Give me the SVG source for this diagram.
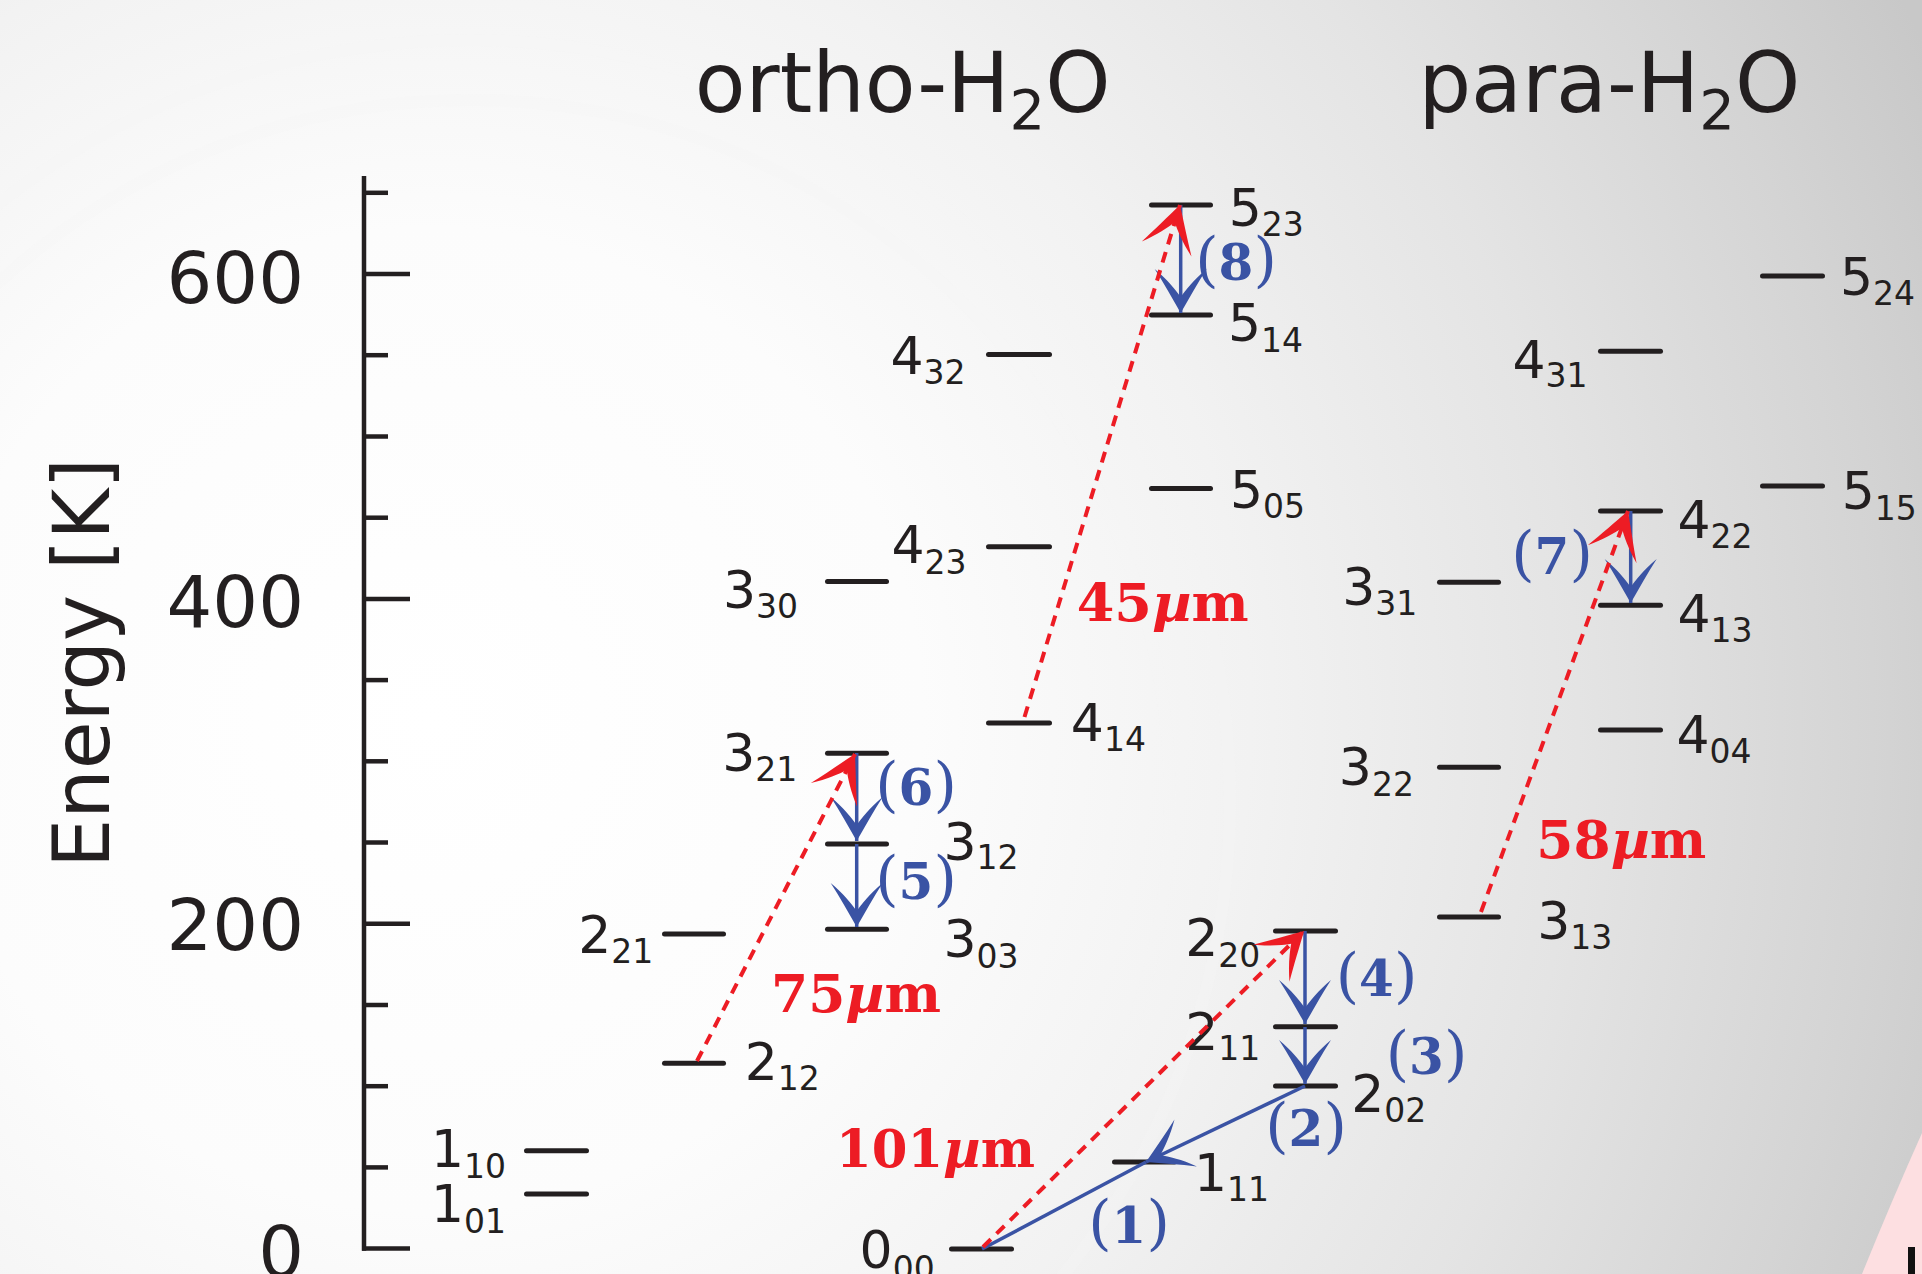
<svg xmlns="http://www.w3.org/2000/svg" width="1922" height="1274" viewBox="0 0 1922 1274">
<defs>
<radialGradient id="bg" gradientUnits="userSpaceOnUse" cx="430" cy="720" r="1640">
<stop offset="0" stop-color="#ffffff"/>
<stop offset="0.3" stop-color="#fcfcfc"/>
<stop offset="0.5" stop-color="#f2f2f2"/>
<stop offset="0.7" stop-color="#e4e4e4"/>
<stop offset="0.88" stop-color="#d4d4d4"/>
<stop offset="1" stop-color="#c8c8c8"/>
</radialGradient>
<marker id="ab" markerUnits="userSpaceOnUse" viewBox="-50 -30 55 60" markerWidth="55" markerHeight="60" refX="0" refY="0" orient="auto" overflow="visible">
<path d="M0,0 C-14,-8 -30,-17 -44,-26 C-33,-13 -23,-5 -16,0 C-23,5 -33,13 -44,26 C-30,17 -14,8 0,0 Z" fill="#3a53a4"/>
</marker>
<marker id="ar" markerUnits="userSpaceOnUse" viewBox="-50 -30 55 60" markerWidth="55" markerHeight="60" refX="0" refY="0" orient="auto" overflow="visible">
<path d="M0,0 C-14,-8 -31,-17 -46,-26 C-35,-13 -25,-5 -18,0 C-25,5 -35,13 -46,26 C-31,17 -14,8 0,0 Z" fill="#ed1c24"/>
</marker>
<style>
.lv{stroke:#231f20;stroke-width:5;stroke-linecap:round;fill:none}
.ax{stroke:#231f20;stroke-width:4.5;fill:none}
.lb{font-family:"DejaVu Sans",sans-serif;font-size:52px;fill:#231f20}
.s{font-size:33px}
.tk{font-family:"DejaVu Sans",sans-serif;font-size:72px;fill:#231f20;text-anchor:end}
.tt{font-family:"DejaVu Sans",sans-serif;font-size:83px;fill:#231f20}
.ts{font-size:56px}
.bl{font-family:"DejaVu Serif",serif;font-size:60px;fill:#3a53a4;text-anchor:middle}
.bd{font-size:50px;font-weight:bold}
.rd{font-family:"DejaVu Serif",serif;font-size:53px;font-weight:bold;fill:#ed1c24}
.mu{font-style:italic}
.blu{stroke:#3a53a4;stroke-width:3.5;fill:none}
.red{stroke:#ed1c24;stroke-width:4;fill:none;stroke-dasharray:11 8}
.ring{fill:none;stroke:#f4f4f4;stroke-width:12;opacity:0.3}
</style>
</defs>
<rect x="0" y="0" width="1922" height="1274" fill="url(#bg)"/>
<g id="rings">
<circle class="ring" cx="470" cy="800" r="700"/>
<circle class="ring" cx="470" cy="800" r="760"/>
</g>
<path d="M1922,1133 Q1892,1200 1862,1274 L1922,1274 Z" fill="#fddfe1"/>
<rect x="1908" y="1247" width="7" height="27" fill="#111111"/>

<g id="titles">
<text class="tt" x="694.8" y="112">ortho-H<tspan class="ts" y="128.6">2</tspan><tspan y="112">O</tspan></text>
<text class="tt" x="1418.4" y="112">para-H<tspan class="ts" y="128.6">2</tspan><tspan y="112">O</tspan></text>
</g>

<g id="axis">
<line class="ax" x1="364" y1="176" x2="364" y2="1250.8"/>
<line class="ax" x1="362" y1="1248.6" x2="410" y2="1248.6"/>
<line class="ax" x1="364" y1="1167.4" x2="388" y2="1167.4"/>
<line class="ax" x1="364" y1="1086.2" x2="388" y2="1086.2"/>
<line class="ax" x1="364" y1="1005" x2="388" y2="1005"/>
<line class="ax" x1="364" y1="923.7" x2="410" y2="923.7"/>
<line class="ax" x1="364" y1="842.5" x2="388" y2="842.5"/>
<line class="ax" x1="364" y1="761.3" x2="388" y2="761.3"/>
<line class="ax" x1="364" y1="680.1" x2="388" y2="680.1"/>
<line class="ax" x1="364" y1="598.9" x2="410" y2="598.9"/>
<line class="ax" x1="364" y1="517.7" x2="388" y2="517.7"/>
<line class="ax" x1="364" y1="436.5" x2="388" y2="436.5"/>
<line class="ax" x1="364" y1="355.2" x2="388" y2="355.2"/>
<line class="ax" x1="364" y1="274" x2="410" y2="274"/>
<line class="ax" x1="364" y1="192.8" x2="388" y2="192.8"/>
<text class="tk" x="304" y="303">600</text>
<text class="tk" x="304" y="627">400</text>
<text class="tk" x="304" y="950">200</text>
<text class="tk" x="304" y="1276.5">0</text>
<text class="tk" style="font-size:78px;text-anchor:middle" transform="translate(109,663) rotate(-90)">Energy [K]</text>
</g>

<g id="ortho-1_01"><line class="lv" x1="526.5" y1="1194" x2="586.5" y2="1194"/><text class="lb" x="431" y="1221.7">1<tspan class="s" y="1232.7">01</tspan></text></g>
<g id="ortho-1_10"><line class="lv" x1="526.5" y1="1150.7" x2="586.5" y2="1150.7"/><text class="lb" x="431" y="1166.7">1<tspan class="s" y="1177.7">10</tspan></text></g>
<g id="ortho-2_12"><line class="lv" x1="664.5" y1="1063.3" x2="723.5" y2="1063.3"/><text class="lb" x="744.7" y="1080">2<tspan class="s" y="1089.5">12</tspan></text></g>
<g id="ortho-2_21"><line class="lv" x1="664.5" y1="934" x2="723.5" y2="934"/><text class="lb" x="578.2" y="953.3">2<tspan class="s" y="963.3">21</tspan></text></g>
<g id="ortho-3_03"><line class="lv" x1="827.5" y1="929.3" x2="886.5" y2="929.3"/><text class="lb" x="943.5" y="956.7">3<tspan class="s" y="967.7">03</tspan></text></g>
<g id="ortho-3_12"><line class="lv" x1="827.5" y1="844" x2="886.5" y2="844"/><text class="lb" x="943.5" y="860">3<tspan class="s" y="869">12</tspan></text></g>
<g id="ortho-3_21"><line class="lv" x1="827.5" y1="753.3" x2="886.5" y2="753.3"/><text class="lb" x="722.2" y="771">3<tspan class="s" y="781">21</tspan></text></g>
<g id="ortho-3_30"><line class="lv" x1="827.5" y1="581.6" x2="886.5" y2="581.6"/><text class="lb" x="723" y="608">3<tspan class="s" y="618">30</tspan></text></g>
<g id="ortho-4_14"><line class="lv" x1="988.5" y1="723" x2="1049.5" y2="723"/><text class="lb" x="1070.8" y="741">4<tspan class="s" y="751">14</tspan></text></g>
<g id="ortho-4_23"><line class="lv" x1="988.5" y1="546.7" x2="1049.5" y2="546.7"/><text class="lb" x="891.5" y="563">4<tspan class="s" y="573.5">23</tspan></text></g>
<g id="ortho-4_32"><line class="lv" x1="988.5" y1="354.6" x2="1049.5" y2="354.6"/><text class="lb" x="890.5" y="373.5">4<tspan class="s" y="383.7">32</tspan></text></g>
<g id="ortho-5_05"><line class="lv" x1="1151.5" y1="488.5" x2="1210.5" y2="488.5"/><text class="lb" x="1230" y="508">5<tspan class="s" y="517.6">05</tspan></text></g>
<g id="ortho-5_14"><line class="lv" x1="1151.5" y1="315" x2="1210.5" y2="315"/><text class="lb" x="1228" y="340.7">5<tspan class="s" y="351.7">14</tspan></text></g>
<g id="ortho-5_23"><line class="lv" x1="1151.5" y1="205" x2="1210.5" y2="205"/><text class="lb" x="1228.7" y="226">5<tspan class="s" y="236">23</tspan></text></g>

<g id="para-0_00"><line class="lv" x1="951.5" y1="1249" x2="1011.5" y2="1249"/><text class="lb" x="859.6" y="1268">0<tspan class="s" y="1280">00</tspan></text></g>
<g id="para-1_11"><line class="lv" x1="1114.5" y1="1162" x2="1174.5" y2="1162"/><text class="lb" x="1194" y="1190.7">1<tspan class="s" y="1200.7">11</tspan></text></g>
<g id="para-2_02"><line class="lv" x1="1275.5" y1="1086" x2="1335.5" y2="1086"/><text class="lb" x="1351.2" y="1111.7">2<tspan class="s" y="1122.3">02</tspan></text></g>
<g id="para-2_11"><line class="lv" x1="1275.5" y1="1026.7" x2="1335.5" y2="1026.7"/><text class="lb" x="1185.2" y="1050">2<tspan class="s" y="1060">11</tspan></text></g>
<g id="para-2_20"><line class="lv" x1="1275.5" y1="931" x2="1335.5" y2="931"/><text class="lb" x="1185.2" y="956">2<tspan class="s" y="966.7">20</tspan></text></g>
<g id="para-3_13"><line class="lv" x1="1439.5" y1="917" x2="1498.5" y2="917"/><text class="lb" x="1537.2" y="939">3<tspan class="s" y="949.3">13</tspan></text></g>
<g id="para-3_22"><line class="lv" x1="1439.5" y1="767.3" x2="1498.5" y2="767.3"/><text class="lb" x="1338.8" y="785">3<tspan class="s" y="795.7">22</tspan></text></g>
<g id="para-3_31"><line class="lv" x1="1439.5" y1="582.3" x2="1498.5" y2="582.3"/><text class="lb" x="1342.2" y="605">3<tspan class="s" y="615">31</tspan></text></g>
<g id="para-4_04"><line class="lv" x1="1600.5" y1="730" x2="1660.5" y2="730"/><text class="lb" x="1676.5" y="753.3">4<tspan class="s" y="763.3">04</tspan></text></g>
<g id="para-4_13"><line class="lv" x1="1600.5" y1="605.3" x2="1660.5" y2="605.3"/><text class="lb" x="1677.5" y="631.7">4<tspan class="s" y="641.7">13</tspan></text></g>
<g id="para-4_22"><line class="lv" x1="1600.5" y1="511" x2="1660.5" y2="511"/><text class="lb" x="1677.5" y="538.3">4<tspan class="s" y="548.3">22</tspan></text></g>
<g id="para-4_31"><line class="lv" x1="1600.5" y1="351.3" x2="1660.5" y2="351.3"/><text class="lb" x="1512.5" y="377.6">4<tspan class="s" y="387">31</tspan></text></g>
<g id="para-5_15"><line class="lv" x1="1762.5" y1="486" x2="1822.5" y2="486"/><text class="lb" x="1841.7" y="509.3">5<tspan class="s" y="520">15</tspan></text></g>
<g id="para-5_24"><line class="lv" x1="1762.5" y1="276" x2="1822.5" y2="276"/><text class="lb" x="1840" y="295">5<tspan class="s" y="305">24</tspan></text></g>

<g id="connectors">
<path class="blu" d="M982,1249 L1146,1162"/>
<path class="blu" d="M1305,1086 L1146,1162" marker-end="url(#ab)"/>
<path class="blu" d="M1305,1027 L1305,1084" marker-end="url(#ab)"/>
<path class="blu" d="M1305,931 L1305,1024" marker-end="url(#ab)"/>
<path class="blu" d="M856.7,844 L856.7,927" marker-end="url(#ab)"/>
<path class="blu" d="M856.7,753 L856.7,841" marker-end="url(#ab)"/>
<path class="blu" d="M1630.7,511 L1630.7,603" marker-end="url(#ab)"/>
<path class="blu" d="M1180.7,205 L1180.7,313" marker-end="url(#ab)"/>
<path class="red" d="M983,1247 L1304,931" marker-end="url(#ar)"/>
<path class="red" d="M697,1061 L855,754" marker-end="url(#ar)"/>
<path class="red" d="M1024.5,717 L1180,205" marker-end="url(#ar)"/>
<path class="red" d="M1481,912 L1628,511" marker-end="url(#ar)"/>
</g>

<g id="labels">
<text class="bl" x="1129" y="1243">(<tspan class="bd">1</tspan>)</text>
<text class="bl" x="1306" y="1146">(<tspan class="bd">2</tspan>)</text>
<text class="bl" x="1426.5" y="1074">(<tspan class="bd">3</tspan>)</text>
<text class="bl" x="1376.5" y="996">(<tspan class="bd">4</tspan>)</text>
<text class="bl" x="916" y="899">(<tspan class="bd">5</tspan>)</text>
<text class="bl" x="916" y="805">(<tspan class="bd">6</tspan>)</text>
<text class="bl" x="1552" y="574">(<tspan class="bd">7</tspan>)</text>
<text class="bl" x="1236" y="280">(<tspan class="bd">8</tspan>)</text>
<text class="rd" x="771" y="1011.7" textLength="170" lengthAdjust="spacingAndGlyphs">75<tspan class="mu">µ</tspan>m</text>
<text class="rd" x="836" y="1166.7" textLength="199" lengthAdjust="spacingAndGlyphs">101<tspan class="mu">µ</tspan>m</text>
<text class="rd" x="1076.7" y="621" textLength="172" lengthAdjust="spacingAndGlyphs">45<tspan class="mu">µ</tspan>m</text>
<text class="rd" x="1536.3" y="858.3" textLength="170" lengthAdjust="spacingAndGlyphs">58<tspan class="mu">µ</tspan>m</text>
</g>
</svg>
